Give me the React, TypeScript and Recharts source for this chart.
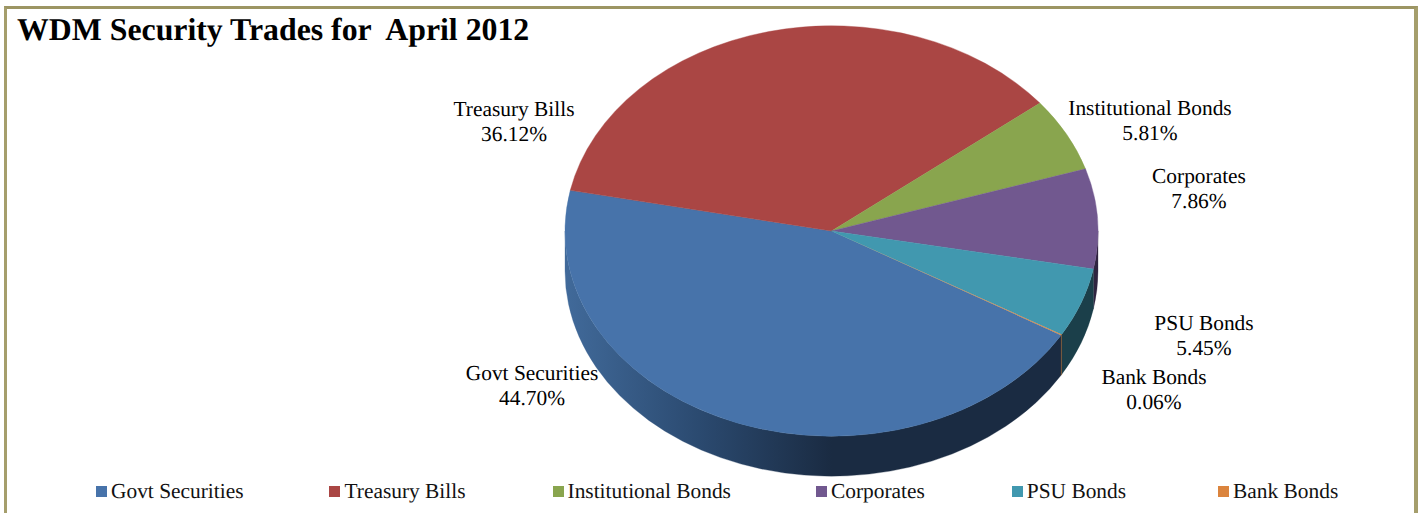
import { Legend, Pie, PieChart } from "recharts";

const categories = ["Govt Securities", "Treasury Bills", "Institutional Bonds", "Corporates", "PSU Bonds", "Bank Bonds"];
const shares = [44.7, 36.12, 5.81, 7.86, 5.45, 0.06];
const shareLabels = ["44.70%", "36.12%", "5.81%", "7.86%", "5.45%", "0.06%"];
const topColors = ["#4773aa", "#aa4644", "#89a54e", "#71588f", "#4198af", "#db843d"];
const wallColors = ["url(#govtWall)", "#6b2b2a", "#55662f", "#2f2440", "#1b3f4a", "#7a4a22"];

const data = categories.map((name, i) => ({ name, value: shares[i], fill: topColors[i] }));

// label centres, first line baseline
const labelSpots = [
  { x: 532, y: 380 },
  { x: 514, y: 116 },
  { x: 1150, y: 115 },
  { x: 1199, y: 183 },
  { x: 1204, y: 330 },
  { x: 1154, y: 384 },
];
// space left of each legend entry
const legendGaps = [96, 86, 87, 85, 87, 92];

const FONT = "'Liberation Serif', 'Times New Roman', serif";
const TILT = 0.77;
const DEPTH = 40;

const rad = (a: number) => (a * Math.PI) / 180;

const Slice3D = (props: any) => {
  const { cx, cy, outerRadius, startAngle, endAngle, fill, index } = props;
  const rx = outerRadius;
  const ry = outerRadius * TILT;
  const px = (a: number) => cx + rx * Math.cos(rad(a));
  const py = (a: number) => cy - ry * Math.sin(rad(a));
  const lo = Math.min(startAngle, endAngle);
  const hi = Math.max(startAngle, endAngle);
  const large = hi - lo > 180 ? 1 : 0;
  const top = `M${cx},${cy} L${px(hi)},${py(hi)} A${rx},${ry} 0 ${large} 1 ${px(lo)},${py(lo)} Z`;

  // only the front half of the rim shows a wall
  const walls: string[] = [];
  [0, 360].forEach((off) => {
    const a = Math.max(lo + off, -180);
    const b = Math.min(hi + off, 0);
    if (b > a) {
      walls.push(
        `M${px(b)},${py(b)} A${rx},${ry} 0 0 1 ${px(a)},${py(a)} L${px(a)},${py(a) + DEPTH} A${rx},${ry} 0 0 0 ${px(b)},${py(b) + DEPTH} Z`
      );
    }
  });

  return (
    <g>
      {walls.map((d, i) => (
        <path key={i} d={d} fill={wallColors[index]} stroke={wallColors[index]} strokeWidth={0.3} />
      ))}
      <path d={top} fill={fill} stroke={fill} strokeWidth={hi - lo > 1 ? 0.4 : 0} />
    </g>
  );
};

const SliceLabel = (props: any) => {
  const spot = labelSpots[props.index];
  return (
    <text x={spot.x} y={spot.y} textAnchor="middle" fontFamily={FONT} fontSize={21.4} fill="#000" textRendering="geometricPrecision">
      <tspan x={spot.x}>{categories[props.index]}</tspan>
      <tspan x={spot.x} dy={25}>
        {shareLabels[props.index]}
      </tspan>
    </text>
  );
};

const LegendRow = ({ payload }: any) => (
  <div style={{ display: "flex", fontFamily: FONT, fontSize: 21.4, color: "#111", lineHeight: "24px", textRendering: "geometricPrecision" }}>
    {(payload || []).map((item: any, i: number) => (
      <div key={item.value} style={{ display: "flex", alignItems: "center", gap: 4, whiteSpace: "nowrap", marginLeft: legendGaps[i] }}>
        <span style={{ width: 11, height: 11, background: item.color, display: "inline-block" }} />
        {item.value}
      </div>
    ))}
  </div>
);

export default function App() {
  return (
    <div style={{ position: "absolute", left: 0, top: 0, width: 1419, height: 513, overflow: "hidden", background: "#fff" }}>
      <div style={{ position: "absolute", left: 4, top: 6, right: 1, bottom: 0, borderTop: "3px solid #9c9563", borderLeft: "3px solid #a59e6c", borderRight: "4px solid #a59e6c" }} />
      <div style={{ position: "absolute", left: 17, top: 11, fontFamily: FONT, fontWeight: "bold", fontSize: 31.8, lineHeight: "38px", whiteSpace: "pre", color: "#000", textRendering: "geometricPrecision" }}>
        {"WDM Security Trades for  April 2012"}
      </div>
      <div style={{ position: "absolute", left: 0, top: 0 }}>
        <PieChart width={1419} height={513} margin={{ top: 0, right: 0, bottom: 0, left: 0 }}>
          <defs>
            <linearGradient id="govtWall" gradientUnits="userSpaceOnUse" x1={565} x2={832} y1={0} y2={0}>
              <stop offset="0" stopColor="#416a9a" />
              <stop offset="0.5" stopColor="#2b4a70" />
              <stop offset="1" stopColor="#1a2b42" />
            </linearGradient>
          </defs>
          <Pie
            data={data}
            dataKey="value"
            nameKey="name"
            cx={831.5}
            cy={231}
            outerRadius={266.5}
            startAngle={-30.5}
            endAngle={-390.5}
            shape={Slice3D}
            label={SliceLabel}
            labelLine={false}
            isAnimationActive={false}
          />
          <Legend content={LegendRow} itemSorter={null} wrapperStyle={{ left: 0, top: 479, width: 1419 }} />
        </PieChart>
      </div>
    </div>
  );
}
